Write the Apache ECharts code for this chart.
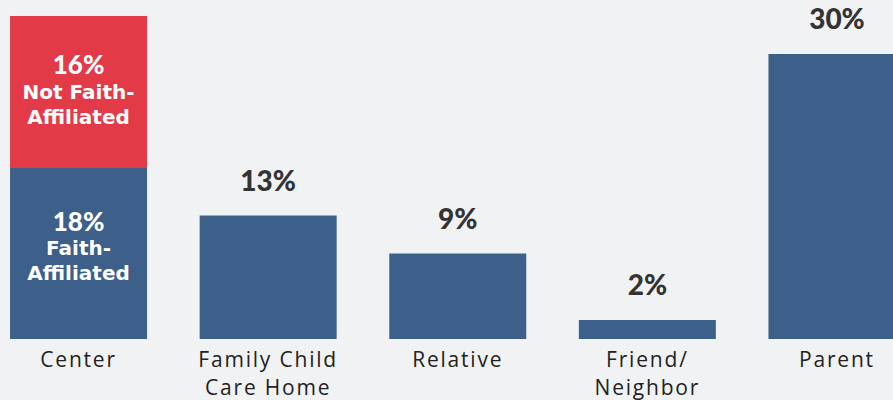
<!DOCTYPE html>
<html><head><meta charset="utf-8">
<script src="https://cdn.jsdelivr.net/npm/echarts@6/dist/echarts.min.js"></script>
<style>
html,body{margin:0;padding:0;background:#f1f2f4;overflow:hidden;}
#c{width:893px;height:400px;}
#c text[style*="Open Sans"]{letter-spacing:1.8px;}
</style>
</head><body><div id="c"></div>
<script>
var categories = ['Center', 'Family Child\nCare Home', 'Relative', 'Friend/\nNeighbor', 'Parent'];
var baseValues = [18, 13, 9, 2, 30];          // blue: Faith-Affiliated (Center) / total (others)
var notFaithValues = [16, null, null, null, null]; // red: Not Faith-Affiliated (Center)
var baseInnerText = ['Faith-\nAffiliated', null, null, null, null];
var redInnerText = ['Not Faith-\nAffiliated', null, null, null, null];

var BLUE = '#3c6089', RED = '#e33a48', DARK = '#333333';
var innerRich = {
  v: {fontSize: 26, fontWeight: 900, color: '#fff', fontFamily: 'Lato', lineHeight: 30},
  t: {fontSize: 20, fontWeight: 'bold', color: '#fff', fontFamily: 'DejaVu Sans', lineHeight: 25}
};
function innerLabel(val, txt, offY) {
  var lines = txt.split('\n').map(function (s) { return '{t|' + s + '}'; }).join('\n');
  return {show: true, position: 'inside', offset: [0, offY], formatter: '{v|' + val + '%}\n' + lines, rich: innerRich};
}
var baseData = baseValues.map(function (v, i) {
  var item = {value: v};
  if (baseInnerText[i]) item.label = innerLabel(v, baseInnerText[i], -8);
  else item.label = {show: true, position: 'top', distance: 22, formatter: v + '%',
    fontSize: 28, fontWeight: 900, color: DARK, fontFamily: 'Lato'};
  return item;
});
var redData = notFaithValues.map(function (v, i) {
  if (v == null) return '-';
  return {value: v, label: innerLabel(v, redInnerText[i], -3)};
});

var chart = echarts.init(document.getElementById('c'), null, {renderer: 'svg'});
chart.setOption({
  backgroundColor: '#f1f2f4',
  animation: false,
  grid: {left: -16.25, right: -38.75, top: 6.5, bottom: 61, containLabel: false, outerBoundsMode: 'none'},
  xAxis: {
    type: 'category', data: categories,
    axisLine: {show: false}, axisTick: {show: false},
    axisLabel: {fontSize: 21, color: '#222', fontFamily: 'Open Sans', lineHeight: 28, margin: 6, interval: 0}
  },
  yAxis: {type: 'value', min: 0, max: 35, show: false, splitLine: {show: false}},
  series: [
    {type: 'bar', stack: 's', data: baseData, barWidth: 137, itemStyle: {color: BLUE}},
    {type: 'bar', stack: 's', data: redData, barWidth: 137, itemStyle: {color: RED}}
  ]
});
</script></body></html>
